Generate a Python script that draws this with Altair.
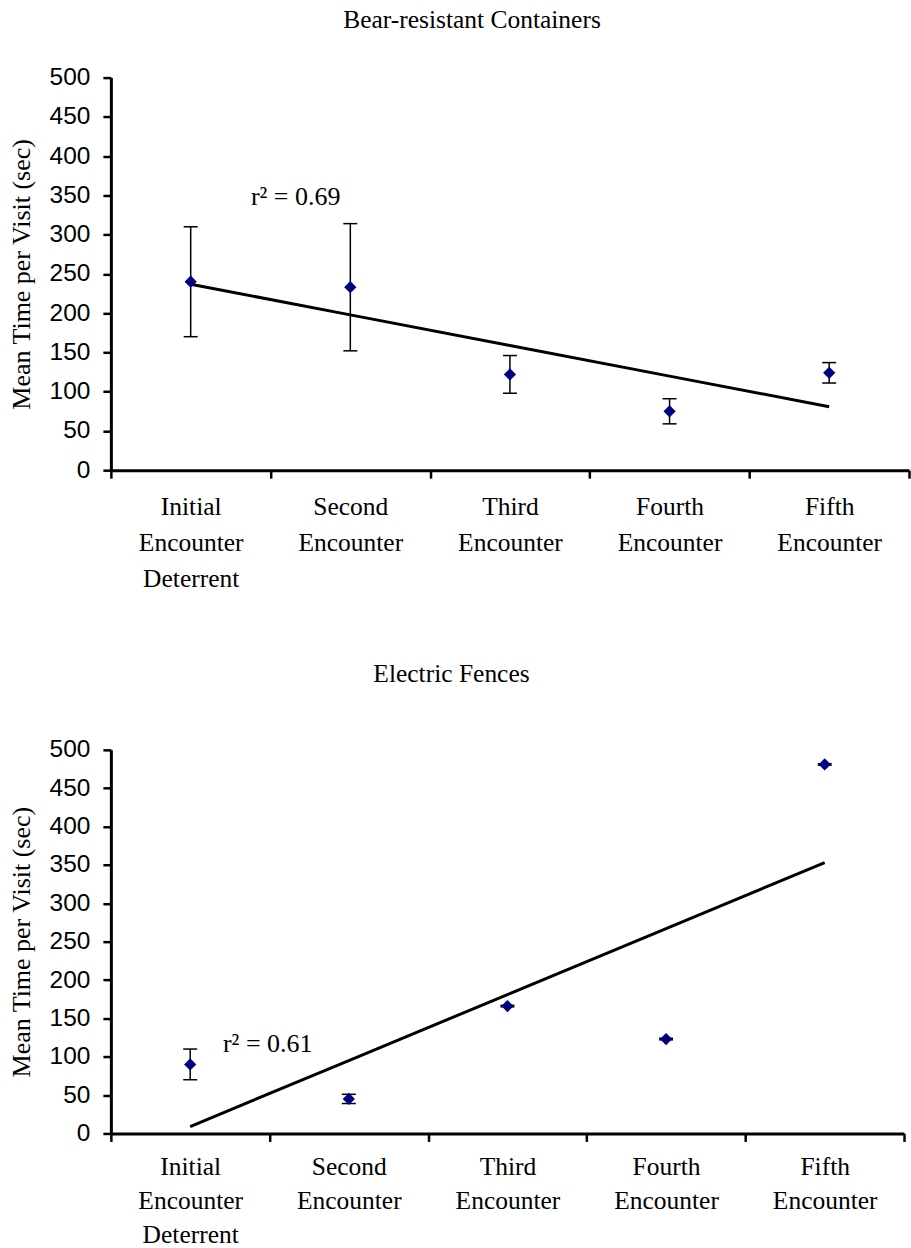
import altair as alt
import pandas as pd
import numpy as np

categories = ["Initial Encounter Deterrent", "Second Encounter", "Third Encounter",
              "Fourth Encounter", "Fifth Encounter"]

bear_title = "Bear-resistant Containers"
bear_mean = [240, 233, 122, 75, 124]
bear_err = [70, 81, 24, 16, 13]
bear_r2 = "r² = 0.69"

fence_title = "Electric Fences"
fence_mean = [90, 45, 166, 123, 481]
fence_err = [20, 6, 1, 1, 1]
fence_r2 = "r² = 0.61"

y_ticks = list(range(0, 501, 50))
y_title = "Mean Time per Visit (sec)"

SERIF = "Liberation Serif"
SANS = "Liberation Sans"


def panel(title, means, errs, r2_text, r2_x, r2_y, width, height,
          title_offset, title_dx, x_label_pad, line_h):
    idx = np.arange(1, len(categories) + 1)
    slope, intercept = np.polyfit(idx, means, 1)
    df = pd.DataFrame({
        "cat": categories,
        "mean": means,
        "lo": [m - e for m, e in zip(means, errs)],
        "hi": [m + e for m, e in zip(means, errs)],
        "fit": slope * idx + intercept,
    })
    xaxis = alt.Axis(title=None, labelAngle=0, labelExpr="split(datum.label, ' ')",
                     tickBand="extent", labelFont=SERIF, labelFontSize=25.5,
                     labelLineHeight=line_h, labelPadding=x_label_pad, labelBaseline="top",
                     tickSize=8, tickWidth=2.5, domainWidth=3, labelColor="black",
                     domainColor="black", tickColor="black", grid=False)
    x = alt.X("cat:N", sort=categories, scale=alt.Scale(paddingInner=0, paddingOuter=0),
              axis=xaxis)
    yaxis = alt.Axis(values=y_ticks, title=y_title, titleFont=SERIF, titleFontSize=26,
                     titleFontWeight="normal", titleColor="black", titlePadding=15,
                     labelFont=SANS, labelFontSize=24.5, labelColor="black",
                     labelPadding=13, tickSize=8, tickWidth=2.5, domainWidth=3,
                     domainColor="black", tickColor="black", grid=False)
    ysc = alt.Scale(domain=[0, 500], nice=False, zero=True)

    def Y(f):
        return alt.Y(f, scale=ysc, axis=yaxis, title=y_title)

    base = alt.Chart(df)
    trend = base.mark_line(color="black", strokeWidth=3).encode(x=x, y=Y("fit:Q"))
    rules = base.mark_rule(color="black", strokeWidth=1.5).encode(x=x, y=Y("lo:Q"), y2="hi:Q")
    cap_lo = base.mark_tick(color="black", size=14, thickness=1.5, opacity=1).encode(x=x, y=Y("lo:Q"))
    cap_hi = base.mark_tick(color="black", size=14, thickness=1.5, opacity=1).encode(x=x, y=Y("hi:Q"))
    pts = base.mark_point(shape="diamond", filled=True, color="#000080", size=150,
                          opacity=1).encode(x=x, y=Y("mean:Q"))
    txt = alt.Chart(pd.DataFrame({"t": [r2_text], "v": [r2_y]})).mark_text(
        font=SERIF, fontSize=26, color="black").encode(
        x=alt.value(r2_x), y=Y("v:Q"), text="t:N")
    return alt.layer(trend, rules, cap_lo, cap_hi, pts, txt).properties(
        width=width, height=height,
        title=alt.TitleParams(title, font=SERIF, fontSize=25.5, fontWeight="normal",
                              anchor="middle", color="black", offset=title_offset,
                              dx=title_dx))


top = panel(bear_title, bear_mean, bear_err, bear_r2, 185, 348, 799, 393,
            title_offset=31, title_dx=-38, x_label_pad=16, line_h=36)
bottom = panel(fence_title, fence_mean, fence_err, fence_r2, 157, 116, 794, 384,
               title_offset=49, title_dx=-56, x_label_pad=13, line_h=34)

chart = alt.vconcat(top, bottom, spacing=70).properties(
    padding={"left": 8, "top": 7, "right": 0, "bottom": 0}
).configure_view(stroke=None)

chart.save("out.html", embed_options={"renderer": "svg", "actions": False})
